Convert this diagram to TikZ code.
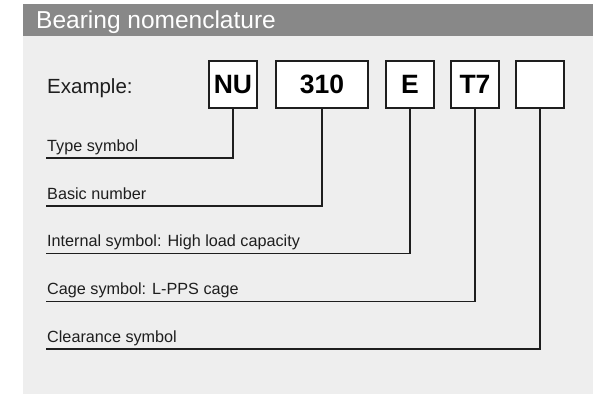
\documentclass[tikz,border=0pt]{standalone}
\usepackage{fontspec}
\setmainfont{Liberation Sans}
\usetikzlibrary{positioning}
\definecolor{panelgray}{HTML}{EEEEEE}
\definecolor{headgray}{HTML}{888888}
\definecolor{inkgray}{HTML}{1E1E1E}

\begin{document}
\begin{tikzpicture}[x=1pt,y=-1pt,
    symbox/.style={draw=inkgray,fill=white,line width=1.1pt,minimum height=47pt,inner sep=0pt,
      font=\fontsize{26.5}{26}\selectfont\bfseries,text=black},
    lead/.style={draw=inkgray,line width=1.3pt},
    lbl/.style={anchor=base west,inner sep=0pt,font=\fontsize{16.2}{17}\selectfont,text=inkgray}]
    \useasboundingbox (0,0) rectangle (616,394);
    % panel and header bar
    \fill[panelgray] (23,4) rectangle (593,394);
    \fill[headgray] (23,4) rectangle (593,36);
    \node[anchor=base west,inner sep=0pt,text=white,font=\fontsize{24.5}{24}\selectfont] (title) at (36,28) {Bearing nomenclature};
    \node[anchor=base west,inner sep=0pt,text=inkgray,font=\fontsize{20.5}{21}\selectfont] (example) at (47,93) {Example:};
    % symbol boxes
    \node[symbox,minimum width=48pt] (nu) at (233,84.5) {NU};
    \node[symbox,minimum width=92pt] (num) at (322,84.5) {310};
    \node[symbox,minimum width=48pt] (ie) at (410,84.5) {E};
    \node[symbox,minimum width=48pt] (cage) at (475,84.5) {T7};
    \node[symbox,minimum width=48pt] (clr) at (540,84.5) {};
    % leader ends
    \coordinate (ttype) at (46,158);
    \coordinate (tnum) at (46,206);
    \coordinate (tie) at (46,253.5);
    \coordinate (tcage) at (46,301.5);
    \coordinate (tclr) at (46,349);
    \draw[lead] (nu.south) |- (ttype);
    \draw[lead] (num.south) |- (tnum);
    \draw[lead] (ie.south) |- (tie);
    \draw[lead] (cage.south) |- (tcage);
    \draw[lead] (clr.south) |- (tclr);
    % labels
    \node[lbl] (ltype) at (47,151) {Type symbol};
    \node[lbl] (lnum) at (47,199) {Basic number};
    \node[lbl] (lie) at (47,246.5) {Internal symbol: High load capacity};
    \node[lbl] (lcage) at (47,294.5) {Cage symbol: L-PPS cage};
    \node[lbl] (lclr) at (47,342) {Clearance symbol};
  \end{tikzpicture}
\end{document}
